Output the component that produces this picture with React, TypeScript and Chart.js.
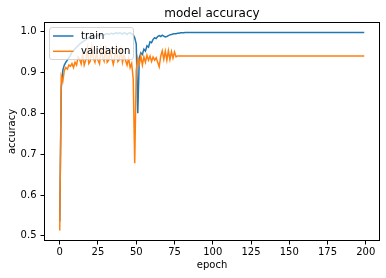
import React, { useEffect, useRef } from 'react';
import { Chart, registerables } from 'chart.js';

Chart.register(...registerables);

const trainAcc: number[] = [
  0.535, 0.862, 0.905, 0.918, 0.925, 0.930, 0.936, 0.942, 0.950, 0.953,
  0.958, 0.962, 0.965, 0.970, 0.972, 0.975, 0.978, 0.980, 0.983, 0.985,
  0.984, 0.987, 0.988, 0.987, 0.990, 0.991, 0.990, 0.992, 0.993, 0.992,
  0.994, 0.995, 0.993, 0.995, 0.996, 0.994, 0.996, 0.997, 0.995, 0.997,
  0.996, 0.994, 0.997, 0.996, 0.993, 0.996, 0.997, 0.995, 0.992, 0.985,
  0.970, 0.800, 0.935, 0.948, 0.944, 0.957, 0.952, 0.965, 0.962, 0.975,
  0.973, 0.981, 0.985, 0.983, 0.988, 0.990, 0.988, 0.991, 0.989, 0.987,
  0.988, 0.990, 0.992, 0.993, 0.994, 0.995, 0.995, 0.996, 0.996, 0.997,
  0.997, 0.997, 0.998, 0.998, 0.998, 0.998, 0.998, 0.998, 0.998, 0.998,
  0.998, 0.998, 0.998, 0.998, 0.998, 0.998, 0.998, 0.998, 0.998, 0.998,
  0.998, 0.998, 0.998, 0.998, 0.998, 0.998, 0.998, 0.998, 0.998, 0.998,
  0.998, 0.998, 0.998, 0.998, 0.998, 0.998, 0.998, 0.998, 0.998, 0.998,
  0.998, 0.998, 0.998, 0.998, 0.998, 0.998, 0.998, 0.998, 0.998, 0.998,
  0.998, 0.998, 0.998, 0.998, 0.998, 0.998, 0.998, 0.998, 0.998, 0.998,
  0.998, 0.998, 0.998, 0.998, 0.998, 0.998, 0.998, 0.998, 0.998, 0.998,
  0.998, 0.998, 0.998, 0.998, 0.998, 0.998, 0.998, 0.998, 0.998, 0.998,
  0.998, 0.998, 0.998, 0.998, 0.998, 0.998, 0.998, 0.998, 0.998, 0.998,
  0.998, 0.998, 0.998, 0.998, 0.998, 0.998, 0.998, 0.998, 0.998, 0.998,
  0.998, 0.998, 0.998, 0.998, 0.998, 0.998, 0.998, 0.998, 0.998, 0.998,
  0.998, 0.998, 0.998, 0.998, 0.998, 0.998, 0.998, 0.998, 0.998, 0.998,
];

const valAcc: number[] = [
  0.513, 0.890, 0.878, 0.905, 0.912, 0.908, 0.918, 0.915, 0.922, 0.912,
  0.925, 0.918, 0.938, 0.932, 0.921, 0.945, 0.918, 0.930, 0.958, 0.922,
  0.928, 0.962, 0.935, 0.925, 0.948, 0.930, 0.921, 0.955, 0.938, 0.928,
  0.965, 0.925, 0.930, 0.952, 0.935, 0.920, 0.938, 0.960, 0.927, 0.932,
  0.955, 0.925, 0.942, 0.930, 0.918, 0.935, 0.912, 0.922, 0.885, 0.678,
  0.905, 0.935, 0.920, 0.940, 0.918, 0.938, 0.925, 0.942, 0.930, 0.940,
  0.927, 0.938, 0.930, 0.936, 0.925, 0.914, 0.940, 0.953, 0.932, 0.952,
  0.930, 0.953, 0.932, 0.951, 0.935, 0.950, 0.938, 0.9405, 0.9405, 0.9405,
  0.9405, 0.9405, 0.9405, 0.9405, 0.9405, 0.9405, 0.9405, 0.9405, 0.9405, 0.9405,
  0.9405, 0.9405, 0.9405, 0.9405, 0.9405, 0.9405, 0.9405, 0.9405, 0.9405, 0.9405,
  0.9405, 0.9405, 0.9405, 0.9405, 0.9405, 0.9405, 0.9405, 0.9405, 0.9405, 0.9405,
  0.9405, 0.9405, 0.9405, 0.9405, 0.9405, 0.9405, 0.9405, 0.9405, 0.9405, 0.9405,
  0.9405, 0.9405, 0.9405, 0.9405, 0.9405, 0.9405, 0.9405, 0.9405, 0.9405, 0.9405,
  0.9405, 0.9405, 0.9405, 0.9405, 0.9405, 0.9405, 0.9405, 0.9405, 0.9405, 0.9405,
  0.9405, 0.9405, 0.9405, 0.9405, 0.9405, 0.9405, 0.9405, 0.9405, 0.9405, 0.9405,
  0.9405, 0.9405, 0.9405, 0.9405, 0.9405, 0.9405, 0.9405, 0.9405, 0.9405, 0.9405,
  0.9405, 0.9405, 0.9405, 0.9405, 0.9405, 0.9405, 0.9405, 0.9405, 0.9405, 0.9405,
  0.9405, 0.9405, 0.9405, 0.9405, 0.9405, 0.9405, 0.9405, 0.9405, 0.9405, 0.9405,
  0.9405, 0.9405, 0.9405, 0.9405, 0.9405, 0.9405, 0.9405, 0.9405, 0.9405, 0.9405,
  0.9405, 0.9405, 0.9405, 0.9405, 0.9405, 0.9405, 0.9405, 0.9405, 0.9405, 0.9405,
];

const xTicks: number[] = [0, 25, 50, 75, 100, 125, 150, 175, 200];
const yTicks: number[] = [0.5, 0.6, 0.7, 0.8, 0.9, 1.0];
const seriesNames: string[] = ['train', 'validation'];
const chartTitle = 'model accuracy';
const xAxisLabel = 'epoch';
const yAxisLabel = 'accuracy';

const BLUE = '#1f77b4';
const ORANGE = '#ff7f0e';
const FONT = '"DejaVu Sans", sans-serif';

export default function App() {
  const canvasRef = useRef<HTMLCanvasElement>(null);

  useEffect(() => {
    const canvas = canvasRef.current;
    if (!canvas) return;

    const n = trainAcc.length;
    const allVals = trainAcc.concat(valAcc);
    const lo = Math.min(...allVals);
    const hi = Math.max(...allVals);
    const yPad = (hi - lo) * 0.05;
    const xPad = (n - 1) * 0.05;

    const overlay = {
      id: 'mplOverlay',
      afterDatasetsDraw(chart: any) {
        const { ctx, chartArea: a } = chart;
        ctx.save();
        ctx.strokeStyle = '#000';
        ctx.lineWidth = 1;
        ctx.strokeRect(a.left, a.top, a.right - a.left, a.bottom - a.top);

        const bx = a.left + 5;
        const by = a.top + 5;
        const bw = 84;
        const bh = 32;
        const r = 2.5;
        ctx.beginPath();
        ctx.moveTo(bx + r, by);
        ctx.lineTo(bx + bw - r, by);
        ctx.arcTo(bx + bw, by, bx + bw, by + r, r);
        ctx.lineTo(bx + bw, by + bh - r);
        ctx.arcTo(bx + bw, by + bh, bx + bw - r, by + bh, r);
        ctx.lineTo(bx + r, by + bh);
        ctx.arcTo(bx, by + bh, bx, by + bh - r, r);
        ctx.lineTo(bx, by + r);
        ctx.arcTo(bx, by, bx + r, by, r);
        ctx.closePath();
        ctx.fillStyle = 'rgba(255,255,255,0.8)';
        ctx.fill();
        ctx.strokeStyle = 'rgba(204,204,204,0.8)';
        ctx.stroke();

        const colors = [BLUE, ORANGE];
        ctx.font = `10px ${FONT}`;
        ctx.textAlign = 'left';
        ctx.textBaseline = 'middle';
        seriesNames.forEach((name, i) => {
          const ly = by + 8.5 + i * 15.3;
          ctx.beginPath();
          ctx.strokeStyle = colors[i];
          ctx.lineWidth = 1.5;
          ctx.moveTo(bx + 3.5, ly);
          ctx.lineTo(bx + 24, ly);
          ctx.stroke();
          ctx.fillStyle = '#000';
          ctx.fillText(name, bx + 31.5, ly + 0.5);
        });

        ctx.font = `12px ${FONT}`;
        ctx.textAlign = 'center';
        ctx.textBaseline = 'alphabetic';
        ctx.fillStyle = '#000';
        ctx.fillText(chartTitle, (a.left + a.right) / 2, 17);
        ctx.restore();
      },
    };

    const chart = new Chart(canvas, {
      type: 'line',
      data: {
        datasets: [
          {
            label: seriesNames[0],
            data: trainAcc.map((v, i) => ({ x: i, y: v })),
            borderColor: BLUE,
            backgroundColor: BLUE,
            borderWidth: 1.5,
            pointRadius: 0,
            tension: 0,
            order: 1,
          },
          {
            label: seriesNames[1],
            data: valAcc.map((v, i) => ({ x: i, y: v })),
            borderColor: ORANGE,
            backgroundColor: ORANGE,
            borderWidth: 1.5,
            pointRadius: 0,
            tension: 0,
            order: 0,
          },
        ],
      },
      options: {
        responsive: false,
        animation: false,
        events: [],
        layout: { padding: { top: 22.5, right: 6.5, left: 0, bottom: 0 } },
        plugins: {
          legend: { display: false },
          tooltip: { enabled: false },
          title: { display: false },
        },
        scales: {
          x: {
            type: 'linear',
            min: -xPad,
            max: n - 1 + xPad,
            afterFit: (s: any) => {
              s.height = 37.5;
            },
            afterBuildTicks: (s: any) => {
              s.ticks = xTicks.map((v) => ({ value: v }));
            },
            ticks: {
              color: '#000',
              font: { family: FONT, size: 10 },
              padding: 2,
              maxRotation: 0,
              callback: (v: any) => String(v),
            },
            grid: {
              display: true,
              drawOnChartArea: false,
              drawTicks: true,
              tickLength: 4,
              color: '#000',
              lineWidth: 1,
            },
            border: { display: false },
            title: {
              display: true,
              text: xAxisLabel,
              color: '#000',
              font: { family: FONT, size: 10 },
              padding: { top: 0, bottom: 7 },
            },
          },
          y: {
            type: 'linear',
            min: lo - yPad,
            max: hi + yPad,
            afterFit: (s: any) => {
              s.width = 44.5;
            },
            afterBuildTicks: (s: any) => {
              s.ticks = yTicks.map((v) => ({ value: v }));
            },
            ticks: {
              color: '#000',
              font: { family: FONT, size: 10 },
              padding: 4,
              callback: (v: any) => Number(v).toFixed(1),
            },
            grid: {
              display: true,
              drawOnChartArea: false,
              drawTicks: true,
              tickLength: 4,
              color: '#000',
              lineWidth: 1,
            },
            border: { display: false },
            title: {
              display: true,
              text: yAxisLabel,
              color: '#000',
              font: { family: FONT, size: 10 },
              padding: { top: 6, bottom: 0 },
            },
          },
        },
      },
      plugins: [overlay],
    } as any);

    return () => chart.destroy();
  }, []);

  return (
    <div style={{ position: 'absolute', left: 0, top: 0, width: 386, height: 278, background: '#fff' }}>
      <canvas ref={canvasRef} width={386} height={278} style={{ width: 386, height: 278, display: 'block' }} />
    </div>
  );
}
